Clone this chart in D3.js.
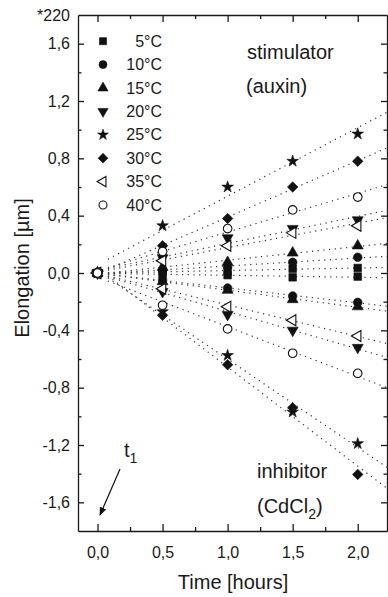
<!DOCTYPE html>
<html>
<head>
<meta charset="utf-8">
<script src="https://cdn.jsdelivr.net/npm/d3@7"></script>
<style>
  body { margin: 0; background: #fff; }
  svg { display: block; font-family: "Liberation Sans", Arial, sans-serif; }
  .axis path, .axis line { stroke: #1a1a1a; stroke-width: 1.3; }
  .axis text { fill: #1a1a1a; font-size: 16px; }
</style>
</head>
<body>
<svg id="chart" width="388" height="597"></svg>
<script>
// time points [hours]
const times = [0, 0.5, 1.0, 1.5, 2.0];
const temps = ['5', '10', '15', '20', '25', '30', '35', '40'];
const markers = ['square', 'circle', 'up', 'down', 'star', 'diamond', 'left', 'ring'];

// elongation [um]
const stimulator = [
  [0, 0.01, 0.01, 0.03, 0.035],
  [0, 0.02, 0.04, 0.075, 0.11],
  [0, 0.04, 0.075, 0.14, 0.19],
  [0, 0.105, 0.245, 0.31, 0.37],
  [0, 0.33, 0.60, 0.78, 0.97],
  [0, 0.19, 0.38, 0.60, 0.78],
  [0, 0.085, 0.19, 0.28, 0.33],
  [0, 0.15, 0.31, 0.44, 0.53]
];
const inhibitor = [
  [0, -0.01, -0.015, -0.03, -0.025],
  [0, -0.05, -0.105, -0.16, -0.205],
  [0, -0.06, -0.12, -0.185, -0.235],
  [0, -0.13, -0.29, -0.40, -0.52],
  [0, -0.27, -0.575, -0.97, -1.19],
  [0, -0.295, -0.64, -0.94, -1.405],
  [0, -0.11, -0.235, -0.33, -0.44],
  [0, -0.225, -0.39, -0.56, -0.70]
];

const xMajor = [0, 0.5, 1.0, 1.5, 2.0];
const xMinor = [0.25, 0.75, 1.25, 1.75];
const yMajor = [-1.6, -1.2, -0.8, -0.4, 0, 0.4, 0.8, 1.2, 1.6];
const yMinor = [-1.4, -1.0, -0.6, -0.2, 0.2, 0.6, 1.0, 1.4];

const svg = d3.select('#chart');
const pLeft = 78, pRight = 387, pTop = 15, pBottom = 531;

const x = d3.scaleLinear().domain([-0.15, 2.225]).range([pLeft, pRight]);
const y = d3.scaleLinear().domain([-1.8, 1.8]).range([pBottom, pTop]);

const comma = d => d3.format('.1f')(d).replace('.', ',').replace('−', '-');

const defs = svg.append('defs');
defs.append('clipPath').attr('id', 'plot')
  .append('rect').attr('x', pLeft).attr('y', pTop)
  .attr('width', pRight - pLeft).attr('height', pBottom - pTop);

// axes, all ticks inside
function axis(gen, tr, vals, len, fmt){
  const g = svg.append('g').attr('class', 'axis').attr('transform', tr)
    .call(gen.tickValues(vals).tickSize(-len).tickSizeOuter(0).tickFormat(fmt));
  return g;
}
axis(d3.axisBottom(x), `translate(0,${pBottom})`, xMajor, 7, comma)
  .selectAll('text').attr('y', 10).attr('dy', '1.05em');
axis(d3.axisBottom(x), `translate(0,${pBottom})`, xMinor, 4, () => '').select('.domain').remove();
axis(d3.axisTop(x), `translate(0,${pTop})`, xMajor, 7, () => '');
axis(d3.axisTop(x), `translate(0,${pTop})`, xMinor, 4, () => '').select('.domain').remove();
axis(d3.axisLeft(y), `translate(${pLeft},0)`, yMajor, 6, comma)
  .selectAll('text').attr('x', -8);
axis(d3.axisLeft(y), `translate(${pLeft},0)`, yMinor, 3.5, () => '').select('.domain').remove();
axis(d3.axisRight(y), `translate(${pRight},0)`, yMajor, 6, () => '');
axis(d3.axisRight(y), `translate(${pRight},0)`, yMinor, 3.5, () => '').select('.domain').remove();

svg.selectAll('.axis .domain').attr('stroke-width', 1.5);

// multiplier label
svg.append('text').attr('x', 70).attr('y', 21).attr('text-anchor', 'end')
  .attr('font-size', 16).attr('fill', '#1a1a1a').text('*220');

// axis titles
svg.append('text').attr('x', 233).attr('y', 589)
  .attr('text-anchor', 'middle').attr('font-size', 20).attr('fill', '#1a1a1a')
  .text('Time [hours]');
svg.append('text').attr('transform', 'translate(29,268) rotate(-90)')
  .attr('text-anchor', 'middle').attr('font-size', 20).attr('fill', '#1a1a1a')
  .text('Elongation [µm]');

// marker shapes
function symbolPath(kind, size){
  const tri = d3.symbol(d3.symbolTriangle, size * 0.9)();
  switch(kind){
    case 'square': return {d: d3.symbol(d3.symbolSquare, size)(), rot: 0};
    case 'circle':
    case 'ring': return {d: d3.symbol(d3.symbolCircle, size)(), rot: 0};
    case 'up': return {d: tri, rot: 0};
    case 'down': return {d: tri, rot: 180};
    case 'left': return {d: tri, rot: -90};
    case 'star': return {d: d3.symbol(d3.symbolStar, size * 0.72)(), rot: 0};
    case 'diamond': return {d: d3.symbol(d3.symbolSquare, size * 0.95)(), rot: 45};
  }
}
function drawMarker(g, kind, cx, cy, size){
  const s = symbolPath(kind, size);
  const open = kind === 'left' || kind === 'ring';
  g.append('path').attr('d', s.d)
    .attr('transform', `translate(${cx},${cy}) rotate(${s.rot})`)
    .attr('fill', open ? '#fff' : '#111')
    .attr('stroke', '#111').attr('stroke-width', open ? 1.1 : 0.6);
}

// least squares fit line for each series
function fit(vals){
  const mt = d3.mean(times), mv = d3.mean(vals);
  const sxy = d3.sum(times, (t, i) => (t - mt) * (vals[i] - mv));
  const sxx = d3.sum(times, t => (t - mt) * (t - mt));
  const k = sxy / sxx;
  return {k: k, b: mv - k * mt};
}

const lines = svg.append('g').attr('clip-path', 'url(#plot)');
const pts = svg.append('g');
const t0 = 0.08, t1 = 2.3;

[stimulator, inhibitor].forEach(function(group){
  group.forEach(function(vals){
    const f = fit(vals);
    lines.append('line')
      .attr('x1', x(t0)).attr('y1', y(f.k * t0 + f.b))
      .attr('x2', x(t1)).attr('y2', y(f.k * t1 + f.b))
      .attr('stroke', '#333').attr('stroke-width', 1.2)
      .attr('stroke-dasharray', '1.2,4.5');
  });
});

// points: open symbols last so they sit on top
[stimulator, inhibitor].forEach(function(group){
  group.forEach(function(vals, i){
    vals.forEach(function(v, j){
      drawMarker(pts, markers[i], x(times[j]), y(v), 58);
    });
  });
});

// legend
const legend = svg.append('g');
temps.forEach(function(t, i){
  const base = 46.7 + i * 23.4;
  drawMarker(legend, markers[i], 103, base - 5.5, 50);
  legend.append('text').attr('x', 162).attr('y', base)
    .attr('text-anchor', 'end').attr('font-size', 16).attr('fill', '#1a1a1a')
    .text(t + '°C');
});

// annotations
const note = svg.append('g').attr('font-size', 20).attr('fill', '#1a1a1a');
note.append('text').attr('x', 247).attr('y', 59).text('stimulator');
note.append('text').attr('x', 246).attr('y', 93).text('(auxin)');
note.append('text').attr('x', 257).attr('y', 478).text('inhibitor');
const cd = note.append('text').attr('x', 257).attr('y', 513);
cd.append('tspan').text('(CdCl');
cd.append('tspan').attr('font-size', 14).attr('dy', 6).text('2');
cd.append('tspan').attr('dy', -6).text(')');

const tl = note.append('text').attr('x', 124).attr('y', 457);
tl.append('tspan').text('t');
tl.append('tspan').attr('font-size', 14).attr('dy', 6).text('1');

defs.append('marker').attr('id', 'head')
  .attr('viewBox', '0 0 10 10').attr('refX', 9).attr('refY', 5)
  .attr('markerWidth', 7).attr('markerHeight', 7).attr('orient', 'auto')
  .append('path').attr('d', 'M0,1 L10,5 L0,9 z').attr('fill', '#111');
svg.append('line').attr('x1', 120).attr('y1', 469).attr('x2', 100).attr('y2', 515)
  .attr('stroke', '#111').attr('stroke-width', 1.2).attr('marker-end', 'url(#head)');
</script>
</body>
</html>
